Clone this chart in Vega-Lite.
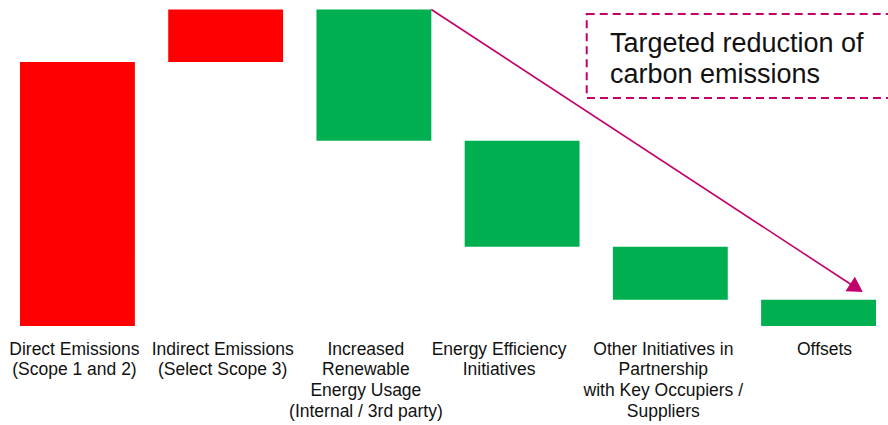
{
  "$schema": "https://vega.github.io/schema/vega-lite/v6.json",
  "width": 888,
  "height": 326,
  "autosize": "none",
  "padding": {"left": 0, "top": 0, "right": 0, "bottom": 99},
  "background": "white",
  "config": {
    "view": {"stroke": null},
    "font": "Liberation Sans"
  },
  "datasets": {
    "steps": [
      {"step": "Direct Emissions\n(Scope 1 and 2)", "start": 0, "end": 83.4, "kind": "emission"},
      {"step": "Indirect Emissions\n(Select Scope 3)", "start": 83.4, "end": 100, "kind": "emission"},
      {"step": "Increased\nRenewable\nEnergy Usage\n(Internal / 3rd party)", "start": 100, "end": 58.5, "kind": "reduction"},
      {"step": "Energy Efficiency\nInitiatives", "start": 58.5, "end": 25, "kind": "reduction"},
      {"step": "Other Initiatives in\nPartnership\nwith Key Occupiers /\nSuppliers", "start": 25, "end": 8.3, "kind": "reduction"},
      {"step": "Offsets", "start": 8.3, "end": 0, "kind": "reduction"}
    ],
    "trend": [
      {"from": "Increased\nRenewable\nEnergy Usage\n(Internal / 3rd party)", "to": "Offsets", "y0": 100, "y1": 12.0}
    ],
    "note": [
      {"anchor": "Other Initiatives in\nPartnership\nwith Key Occupiers /\nSuppliers", "top": 98.6, "bottom": 72.0, "textY": 86.7, "label": ["Targeted reduction of", "carbon emissions"]}
    ]
  },
  "layer": [
    {
      "data": {"name": "steps"},
      "mark": {"type": "bar"},
      "encoding": {
        "x": {
          "field": "step",
          "type": "nominal",
          "sort": null,
          "scale": {
            "domain": [
              "Direct Emissions\n(Scope 1 and 2)",
              "Indirect Emissions\n(Select Scope 3)",
              "Increased\nRenewable\nEnergy Usage\n(Internal / 3rd party)",
              "Energy Efficiency\nInitiatives",
              "Other Initiatives in\nPartnership\nwith Key Occupiers /\nSuppliers",
              "Offsets"
            ],
            "range": [20, 876],
            "paddingInner": 0.225,
            "paddingOuter": 0
          },
          "axis": {
            "title": null,
            "domain": false,
            "ticks": false,
            "labelAngle": 0,
            "labelFontSize": 17.5,
            "labelColor": "#111111",
            "labelFont": "Liberation Sans",
            "labelLineHeight": 20.8,
            "labelPadding": 14,
            "labelLimit": 0,
            "labelExpr": "split(datum.value, '\\n')",
            "labelOffset": {
              "condition": [
                {"test": "indexof(datum.value, 'Energy Efficiency') == 0", "value": -23},
                {"test": "indexof(datum.value, 'Increased') == 0", "value": -8},
                {"test": "indexof(datum.value, 'Other') == 0", "value": -7},
                {"test": "datum.value == 'Offsets'", "value": 6}
              ],
              "value": -3
            }
          }
        },
        "y": {
          "field": "start",
          "type": "quantitative",
          "scale": {"domain": [0, 103], "nice": false, "zero": false},
          "axis": null
        },
        "y2": {"field": "end"},
        "color": {
          "field": "kind",
          "type": "nominal",
          "scale": {"domain": ["emission", "reduction"], "range": ["#FF0000", "#00B050"]},
          "legend": null
        }
      }
    },
    {
      "data": {"name": "note"},
      "mark": {"type": "rect", "fill": null, "stroke": "#C2006B", "strokeWidth": 2, "strokeDash": [8, 5], "clip": false},
      "encoding": {
        "x": {"field": "anchor", "type": "nominal", "bandPosition": -0.228},
        "x2": {"datum": "Offsets", "bandPosition": 1.15},
        "y": {"field": "top", "type": "quantitative"},
        "y2": {"field": "bottom"}
      }
    },
    {
      "data": {"name": "note"},
      "mark": {"type": "text", "align": "left", "baseline": "alphabetic", "fontSize": 27, "lineHeight": 31, "color": "#111111", "font": "Liberation Sans", "dx": -3},
      "encoding": {
        "x": {"field": "anchor", "type": "nominal", "bandPosition": 0},
        "y": {"field": "textY", "type": "quantitative"},
        "text": {"field": "label"}
      }
    },
    {
      "data": {"name": "trend"},
      "mark": {"type": "rule", "color": "#C2006B", "strokeWidth": 1.6},
      "encoding": {
        "x": {"field": "from", "type": "nominal", "bandPosition": 1},
        "x2": {"field": "to", "bandPosition": 0.83},
        "y": {"field": "y0", "type": "quantitative"},
        "y2": {"field": "y1"}
      }
    },
    {
      "data": {"name": "trend"},
      "mark": {"type": "point", "shape": "triangle-up", "filled": true, "size": 300, "angle": 123, "color": "#C2006B", "opacity": 1},
      "encoding": {
        "x": {"field": "to", "type": "nominal", "bandPosition": 0.83},
        "y": {"field": "y1", "type": "quantitative"}
      }
    }
  ]
}
